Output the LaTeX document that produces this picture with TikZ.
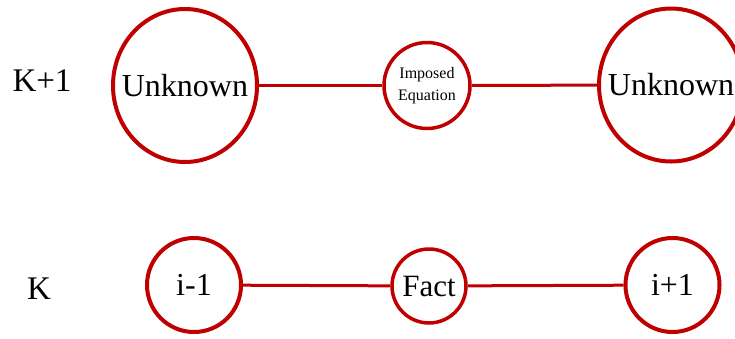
\documentclass[tikz,border=0pt]{standalone}
\usepackage{fontspec}
\setmainfont{Liberation Serif}
\usetikzlibrary{shapes.geometric}
\definecolor{cred}{RGB}{192,0,0}
\begin{document}
\begin{tikzpicture}[x=1pt,y=-1pt,
  bigbub/.style={ellipse,draw=cred,line width=4pt,fill=white,inner sep=0pt,minimum width=144pt,minimum height=153pt,label={[font=\fontsize{32}{36}\selectfont,inner sep=0pt]center:#1}},
  midbub/.style={circle,draw=cred,line width=3.5pt,fill=white,inner sep=0pt,minimum size=86pt,align=center,font=\fontsize{16}{22}\selectfont},
  lowbub/.style={circle,draw=cred,line width=4pt,fill=white,inner sep=0pt,minimum size=94pt,font=\fontsize{32}{36}\selectfont},
  factbub/.style={circle,draw=cred,line width=3.5pt,fill=white,inner sep=0pt,minimum size=74pt,font=\fontsize{31}{36}\selectfont},
  link/.style={draw=cred,line width=3pt},
  lbl/.style={font=\fontsize{33}{36}\selectfont,inner sep=0pt}]
\useasboundingbox (0,0) rectangle (735,338);
\node[lbl] (k1) at (42,81) {K+1};
\node[lbl] (k) at (39,289) {K};
\node[bigbub=Unknown] (u1) at (185,85.5) {};
\node[midbub] (imp) at (427,85.5) {Imposed\\Equation};
\node[bigbub=Unknown] (u2) at (671,85) {};
\node[lowbub] (im) at (194,285) {i-1};
\node[factbub] (fact) at (429,286) {Fact};
\node[lowbub] (ip) at (672.5,285) {i+1};
\draw[link] (u1) -- (imp);
\draw[link] (imp) -- (u2);
\draw[link] (im) -- (fact);
\draw[link] (fact) -- (ip);
\end{tikzpicture}
\end{document}
